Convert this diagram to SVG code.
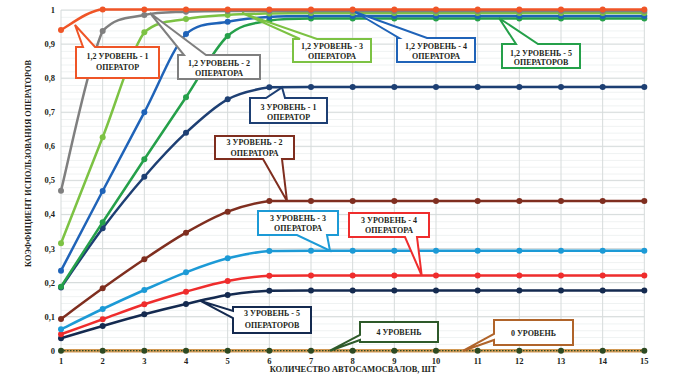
<svg xmlns="http://www.w3.org/2000/svg" width="676" height="377" viewBox="0 0 676 377">
<style>
text{font-family:"Liberation Serif","Times New Roman",serif;font-weight:bold;fill:#231f20}
.lbl{font-size:8px;text-anchor:middle}
.tick{font-size:8.5px}
.grid{stroke:#d6dbdb;stroke-width:1;fill:none}
.s{fill:none;stroke-width:2.5;stroke-linejoin:round}
.co{fill:#ffffff;stroke-width:2;stroke-linejoin:miter}
</style>
<defs>
<pattern id="minor" x="0" y="10" width="700" height="6.814" patternUnits="userSpaceOnUse"><rect x="0" y="0" width="700" height="0.8" fill="#eceff0"/></pattern>
<marker id="m1" markerWidth="8" markerHeight="8" refX="4" refY="4" markerUnits="userSpaceOnUse"><circle cx="4" cy="4" r="3" fill="#ef5527"/></marker>
<marker id="m2" markerWidth="8" markerHeight="8" refX="4" refY="4" markerUnits="userSpaceOnUse"><circle cx="4" cy="4" r="3" fill="#7f7f7f"/></marker>
<marker id="m3" markerWidth="8" markerHeight="8" refX="4" refY="4" markerUnits="userSpaceOnUse"><circle cx="4" cy="4" r="3" fill="#7cc243"/></marker>
<marker id="m4" markerWidth="8" markerHeight="8" refX="4" refY="4" markerUnits="userSpaceOnUse"><circle cx="4" cy="4" r="3" fill="#1f63b8"/></marker>
<marker id="m5" markerWidth="8" markerHeight="8" refX="4" refY="4" markerUnits="userSpaceOnUse"><circle cx="4" cy="4" r="3" fill="#25a04a"/></marker>
<marker id="m6" markerWidth="8" markerHeight="8" refX="4" refY="4" markerUnits="userSpaceOnUse"><circle cx="4" cy="4" r="3" fill="#1d3f73"/></marker>
<marker id="m7" markerWidth="8" markerHeight="8" refX="4" refY="4" markerUnits="userSpaceOnUse"><circle cx="4" cy="4" r="3" fill="#7f2e1f"/></marker>
<marker id="m8" markerWidth="8" markerHeight="8" refX="4" refY="4" markerUnits="userSpaceOnUse"><circle cx="4" cy="4" r="3" fill="#1c9ad6"/></marker>
<marker id="m9" markerWidth="8" markerHeight="8" refX="4" refY="4" markerUnits="userSpaceOnUse"><circle cx="4" cy="4" r="3" fill="#ef2d2d"/></marker>
<marker id="m10" markerWidth="8" markerHeight="8" refX="4" refY="4" markerUnits="userSpaceOnUse"><circle cx="4" cy="4" r="3" fill="#142a50"/></marker>
<marker id="m0" markerWidth="8" markerHeight="8" refX="4" refY="4" markerUnits="userSpaceOnUse"><circle cx="4" cy="4" r="3" fill="#2d4a22"/></marker>
</defs>
<rect width="676" height="377" fill="#ffffff"/>
<g id="grid">
<rect x="61" y="10" width="583.33" height="340.7" fill="url(#minor)"/>
<path class="grid" d="M61,10V350.7M102.67,10V350.7M144.33,10V350.7M186,10V350.7M227.67,10V350.7M269.33,10V350.7M311,10V350.7M352.67,10V350.7M394.33,10V350.7M436,10V350.7M477.67,10V350.7M519.33,10V350.7M561,10V350.7M602.67,10V350.7M644.33,10V350.7"/>
<path class="grid" d="M61,10H644.33M61,44.07H644.33M61,78.14H644.33M61,112.21H644.33M61,146.28H644.33M61,180.35H644.33M61,214.42H644.33M61,248.49H644.33M61,282.56H644.33M61,316.63H644.33M61,350.7H644.33"/>
</g>
<g id="axes">
<g class="tick" text-anchor="end">
<text x="55" y="13">1</text>
<text x="55" y="47">0,9</text>
<text x="55" y="81">0,8</text>
<text x="55" y="115">0,7</text>
<text x="55" y="149">0,6</text>
<text x="55" y="183">0,5</text>
<text x="55" y="217">0,4</text>
<text x="55" y="251.5">0,3</text>
<text x="55" y="285.5">0,2</text>
<text x="55" y="319.5">0,1</text>
<text x="55" y="353.5">0</text>
</g>
<g class="tick" text-anchor="middle">
<text x="61" y="364">1</text>
<text x="102.67" y="364">2</text>
<text x="144.33" y="364">3</text>
<text x="186" y="364">4</text>
<text x="227.67" y="364">5</text>
<text x="269.33" y="364">6</text>
<text x="311" y="364">7</text>
<text x="352.67" y="364">8</text>
<text x="394.33" y="364">9</text>
<text x="436" y="364">10</text>
<text x="477.67" y="364">11</text>
<text x="519.33" y="364">12</text>
<text x="561" y="364">13</text>
<text x="602.67" y="364">14</text>
<text x="644.33" y="364">15</text>
</g>
<text x="353" y="372" font-size="8.4" text-anchor="middle">КОЛИЧЕСТВО АВТОСАМОСВАЛОВ, ШТ</text>
<text transform="translate(31,163.5) rotate(-90)" font-size="8.3" text-anchor="middle">КОЭФФИЦИЕНТ ИСПОЛЬЗОВАНИЯ ОПЕРАТОРОВ</text>
</g>
<g id="connectors">
<path d="M61,350.7H644.33" fill="none" stroke="#d39a55" stroke-width="3.5"/>
<path d="M61,350.7 L102.67,350.7 L144.33,350.7 L186,350.7 L227.67,350.7 L269.33,350.7 L311,350.7 L352.67,350.7 L394.33,350.7 L436,350.7 L477.67,350.7 L519.33,350.7 L561,350.7 L602.67,350.7 L644.33,350.7" fill="none" stroke="#2d4a22" stroke-width="1.3" stroke-dasharray="1.5 1.5" marker-start="url(#m0)" marker-mid="url(#m0)" marker-end="url(#m0)"/>
<path class="s" stroke="#142a50" marker-start="url(#m10)" marker-mid="url(#m10)" marker-end="url(#m10)" d="M61,338.3 C67.94,336.25 88.78,330 102.67,326 C116.56,322 130.44,317.97 144.33,314.3 C158.22,310.63 172.11,307.22 186,304 C199.89,300.78 213.78,297.22 227.67,295 C241.56,292.78 255.44,291.45 269.33,290.7 C283.22,290.5 297.11,290.5 311,290.5 L352.67,290.5 L394.33,290.5 L436,290.5 L477.67,290.5 L519.33,290.5 L561,290.5 L602.67,290.5 L644.33,290.5"/>
<path class="s" stroke="#ef2d2d" marker-start="url(#m9)" marker-mid="url(#m9)" marker-end="url(#m9)" d="M61,334.3 C67.94,331.8 88.78,324.3 102.67,319.3 C116.56,314.3 130.44,308.9 144.33,304.3 C158.22,299.7 172.11,295.58 186,291.7 C199.89,287.82 213.78,283.67 227.67,281 C241.56,278.33 255.44,276.62 269.33,275.7 C283.22,275.5 297.11,275.5 311,275.5 L352.67,275.5 L394.33,275.5 L436,275.5 L477.67,275.5 L519.33,275.5 L561,275.5 L602.67,275.5 L644.33,275.5"/>
<path class="s" stroke="#1c9ad6" marker-start="url(#m8)" marker-mid="url(#m8)" marker-end="url(#m8)" d="M61,329.3 C67.94,325.92 88.78,315.55 102.67,309 C116.56,302.45 130.44,296.12 144.33,290 C158.22,283.88 172.11,277.58 186,272.3 C199.89,267.02 213.78,261.85 227.67,258.3 C241.56,254.75 255.44,252.27 269.33,251 C283.22,250.7 297.11,250.7 311,250.7 L352.67,250.7 L394.33,250.7 L436,250.7 L477.67,250.7 L519.33,250.7 L561,250.7 L602.67,250.7 L644.33,250.7"/>
<path class="s" stroke="#7f2e1f" marker-start="url(#m7)" marker-mid="url(#m7)" marker-end="url(#m7)" d="M61,319 C67.94,313.88 88.78,298.25 102.67,288.3 C116.56,278.35 130.44,268.57 144.33,259.3 C158.22,250.03 172.11,240.63 186,232.7 C199.89,224.77 213.78,216.98 227.67,211.7 C241.56,206.42 255.44,202.78 269.33,201 C283.22,201 297.11,201 311,201 L352.67,201 L394.33,201 L436,201 L477.67,201 L519.33,201 L561,201 L602.67,201 L644.33,201"/>
<path class="s" stroke="#1d3f73" marker-start="url(#m6)" marker-mid="url(#m6)" marker-end="url(#m6)" d="M61,287.5 C67.94,277.63 88.78,246.77 102.67,228.3 C116.56,209.83 130.44,192.63 144.33,176.7 C158.22,160.77 172.11,145.6 186,132.7 C199.89,119.8 213.78,106.87 227.67,99.3 C241.56,91.73 255.44,89.35 269.33,87.3 C283.22,87 297.11,87 311,87 L352.67,87 L394.33,87 L436,87 L477.67,87 L519.33,87 L561,87 L602.67,87 L644.33,87"/>
<path class="s" stroke="#25a04a" marker-start="url(#m5)" marker-mid="url(#m5)" marker-end="url(#m5)" d="M61,286.7 C67.94,275.97 88.78,243.53 102.67,222.3 C116.56,201.07 130.44,180.13 144.33,159.3 C158.22,138.47 172.11,117.85 186,97.3 C199.89,76.75 213.78,48.8 227.67,36 C241.56,23.2 255.44,23.42 269.33,20.5 C283.22,18.5 297.11,18.5 311,18.5 L352.67,18.5 L394.33,18.5 L436,18.5 L477.67,18.5 L519.33,18.5 L561,18.5 L602.67,18.5 L644.33,18.5"/>
<path class="s" stroke="#1f63b8" marker-start="url(#m4)" marker-mid="url(#m4)" marker-end="url(#m4)" d="M61,270.7 C67.94,257.42 88.78,217.4 102.67,191 C116.56,164.6 130.44,138.47 144.33,112.3 C158.22,86.13 172.11,49.1 186,34 C199.89,21.7 213.78,24.53 227.67,21.7 C241.56,18.87 255.44,17.95 269.33,17 C283.22,16.05 297.11,16 311,16 L352.67,16 L394.33,16 L436,16 L477.67,16 L519.33,16 L561,16 L602.67,16 L644.33,16"/>
<path class="s" stroke="#7cc243" marker-start="url(#m3)" marker-mid="url(#m3)" marker-end="url(#m3)" d="M61,243.3 C67.94,225.63 88.78,172.47 102.67,137.3 C116.56,102.13 130.44,52.02 144.33,32.3 C158.22,20 172.11,21.88 186,19 C199.89,16.12 213.78,15.92 227.67,15 C241.56,14.08 255.44,13.83 269.33,13.5 C283.22,13.17 297.11,13 311,13 L352.67,13 L394.33,13 L436,13 L477.67,13 L519.33,13 L561,13 L602.67,13 L644.33,13"/>
<path class="s" stroke="#7f7f7f" marker-start="url(#m2)" marker-mid="url(#m2)" marker-end="url(#m2)" d="M61,190.7 C67.94,164.1 88.78,60.28 102.67,31 C116.56,16 130.44,18.22 144.33,15 C158.22,11.78 172.11,12.37 186,11.7 C199.89,11.03 213.78,11 227.67,11 L269.33,11 L311,11 L352.67,11 L394.33,11 L436,11 L477.67,11 L519.33,11 L561,11 L602.67,11 L644.33,11"/>
<path class="s" stroke="#ef5527" marker-start="url(#m1)" marker-mid="url(#m1)" marker-end="url(#m1)" d="M61,30 C67.94,26.58 88.78,9.5 102.67,9.5 L144.33,9.5 L186,9.5 L227.67,9.5 L269.33,9.5 L311,9.5 L352.67,9.5 L394.33,9.5 L436,9.5 L477.67,9.5 L519.33,9.5 L561,9.5 L602.67,9.5 L644.33,9.5"/>
</g>
<g id="c1"><path class="co" stroke="#ef5527" d="M76,47 H83 L75,25 L95,47 H159 V78 H76 Z"/><text class="lbl" x="117.5" y="58.5">1,2 УРОВЕНЬ - 1</text><text class="lbl" x="117.5" y="69.5">ОПЕРАТОР</text></g>
<g id="c2"><path class="co" stroke="#7f7f7f" d="M178,55 H184 L150,13 L206,55 H260 V79 H178 Z"/><text class="lbl" x="219" y="65.5">1,2 УРОВЕНЬ - 2</text><text class="lbl" x="219" y="75.5">ОПЕРАТОРА</text></g>
<g id="c3"><path class="co" stroke="#7cc243" d="M293,39 H300 L242,13 L317,39 H371 V62 H293 Z"/><text class="lbl" x="332" y="48.5">1,2 УРОВЕНЬ - 3</text><text class="lbl" x="332" y="58.5">ОПЕРАТОРА</text></g>
<g id="c4"><path class="co" stroke="#1f63b8" d="M397,38 H399 L355,12 L427,38 H475 V62 H397 Z"/><text class="lbl" x="436" y="48.5">1,2 УРОВЕНЬ - 4</text><text class="lbl" x="436" y="58.5">ОПЕРАТОРА</text></g>
<g id="c5"><path class="co" stroke="#25a04a" d="M502,44 H516 L499,18 L538,44 H580 V68 H502 Z"/><text class="lbl" x="541" y="55.5">1,2 УРОВЕНЬ - 5</text><text class="lbl" x="541" y="65">ОПЕРАТОРОВ</text></g>
<g id="c6"><path class="co" stroke="#1d3f73" d="M250,98 H266 L282,87.3 L285,98 H327 V123 H250 Z"/><text class="lbl" x="288.5" y="110.3">3 УРОВЕНЬ - 1</text><text class="lbl" x="288.5" y="120">ОПЕРАТОР</text></g>
<g id="c7"><path class="co" stroke="#7f2e1f" d="M215,136 H294 V159 H282 L287,201 L263,159 H215 Z"/><text class="lbl" x="254.5" y="145">3 УРОВЕНЬ - 2</text><text class="lbl" x="254.5" y="155.5">ОПЕРАТОРА</text></g>
<g id="c8"><path class="co" stroke="#1c9ad6" d="M258,211 H338 V235 H327 L330,250.7 L297,235 H258 Z"/><text class="lbl" x="298" y="220.5">3 УРОВЕНЬ - 3</text><text class="lbl" x="298" y="230.5">ОПЕРАТОРА</text></g>
<g id="c9"><path class="co" stroke="#ef2d2d" d="M349,213 H429 V237 H417 L421.7,275.5 L405,237 H349 Z"/><text class="lbl" x="389" y="222.5">3 УРОВЕНЬ - 4</text><text class="lbl" x="389" y="232.5">ОПЕРАТОРА</text></g>
<g id="c10"><path class="co" stroke="#142a50" d="M233,307 H311 V333 H233 V318 L200,300.7 L233,311 Z"/><text class="lbl" x="272" y="316">3 УРОВЕНЬ - 5</text><text class="lbl" x="272" y="327.5">ОПЕРАТОРОВ</text></g>
<g id="c11"><path class="co" stroke="#2e5a2a" d="M360,322 H438 V342 H360 V340 L330,350.7 L360,335 Z"/><text class="lbl" x="399" y="334.8">4 УРОВЕНЬ</text></g>
<g id="c12"><path class="co" stroke="#b0642a" d="M494,320 H573 V345 H494 V340 L463.3,350.7 L494,334 Z"/><text class="lbl" x="533.5" y="336">0 УРОВЕНЬ</text></g>
</svg>
